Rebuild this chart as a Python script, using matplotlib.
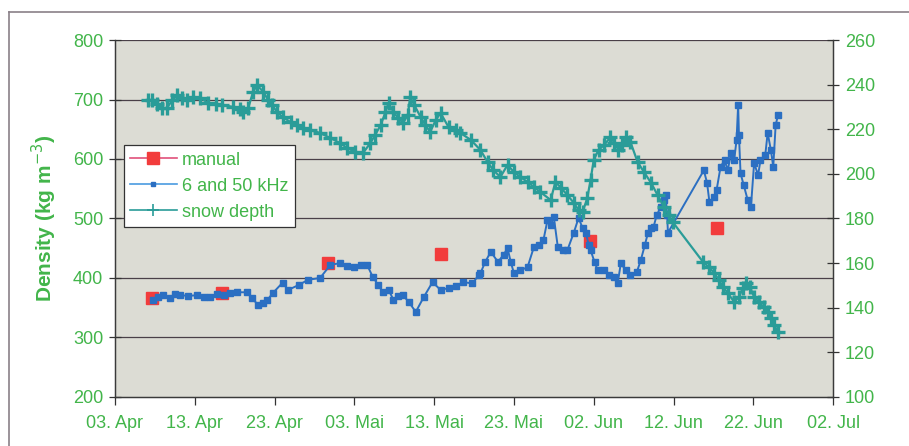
import matplotlib
matplotlib.use("Agg")
import matplotlib.pyplot as plt
from matplotlib.lines import Line2D
import numpy as np
import pandas as pd

plt.rcParams['font.family'] = ['Liberation Sans', 'DejaVu Sans']

# days after 03 Apr
start = pd.Timestamp('2003-04-03')

manual_days = [4.6, 13.4, 26.7, 40.9, 59.5, 75.4]
manual_dens = [366, 375, 425, 440, 462, 484]

# 6 and 50 kHz density (kg m-3)
khz_days = [4.8, 5.4, 6.0, 6.9, 7.5, 8.2, 9.2, 10.3, 11.2, 11.9, 12.8, 13.6, 14.4, 15.3,
            16.6, 17.2, 17.9, 18.6, 19.1, 19.8, 21.0, 21.7, 23.0, 24.2, 25.7, 27.0, 28.2,
            29.1, 29.9, 30.8, 31.6, 32.3, 33.0, 33.6, 34.3, 34.9, 35.5, 36.1, 36.8, 37.7,
            38.7, 39.8, 40.8, 41.8, 42.7, 43.6, 44.8, 45.6, 45.8, 46.4, 47.1, 48.0, 48.7,
            49.2, 49.6, 50.0, 50.8, 51.7, 52.5, 53.1, 53.7, 54.2, 54.6, 55.0, 55.5, 56.1,
            56.7, 57.5, 58.1, 58.6, 59.0, 59.4, 59.6, 60.1, 60.5, 61.3, 61.9, 62.5, 63.0,
            63.4, 64.0, 64.6, 65.4, 65.9, 66.4, 66.8, 67.2, 67.5, 67.9, 68.4, 68.8, 69.0,
            69.2, 69.3, 73.8, 74.2, 74.5, 75.1, 75.4, 75.9, 76.4, 76.8, 77.2, 77.6, 77.9,
            78.1, 78.2, 78.4, 78.8, 79.3, 79.7, 80.1, 80.6, 80.9, 81.5, 81.8, 82.2, 82.5,
            82.8, 83.1]
khz_dens = [363, 368, 371, 366, 373, 371, 370, 371, 368, 368, 373, 371, 375, 376,
            376, 366, 355, 358, 363, 375, 392, 380, 388, 397, 400, 422, 425,
            420, 418, 422, 422, 402, 388, 376, 380, 363, 370, 371, 360, 343,
            368, 393, 380, 383, 386, 393, 391, 405, 408, 427, 444, 427, 439,
            450, 427, 408, 413, 418, 452, 455, 464, 497, 489, 502, 452, 447,
            447, 476, 501, 484, 476, 455, 447, 427, 413, 413, 405, 402, 391,
            425, 413, 405, 410, 430, 455, 476, 484, 486, 506, 519, 531, 539,
            506, 476, 581, 560, 528, 536, 548, 587, 598, 581, 610, 598, 632,
            691, 640, 576, 556, 531, 519, 593, 573, 598, 607, 644, 615, 587,
            657, 674]

# snow depth (cm)
snow_days = [4.1, 4.6, 5.3, 5.9, 6.5, 7.2, 7.8, 8.4, 9.0, 9.8, 10.7, 11.7, 12.6, 13.4,
             14.8, 15.7, 16.1, 16.7, 17.3, 17.8, 18.6, 19.2, 19.7, 20.3, 21.0, 22.0, 22.8,
             23.6, 24.5, 25.7, 27.0, 28.2, 29.1, 30.1, 31.1, 32.0, 32.6, 33.3, 33.9, 34.3,
             34.9, 35.5, 36.1, 36.7, 37.0, 37.5, 38.3, 38.9, 39.5, 40.2, 40.8, 41.8, 42.7,
             43.3, 44.6, 45.8, 46.7, 47.4, 48.3, 49.2, 50.0, 50.8, 51.7, 52.5, 53.3, 54.6,
             55.2, 55.9, 56.7, 57.5, 58.1, 58.6, 59.2, 59.6, 60.0, 60.6, 61.3, 62.1, 62.6,
             63.1, 63.6, 64.1, 64.6, 65.5, 66.3, 67.2, 68.0, 68.8, 69.4, 69.9, 73.7, 74.4,
             75.1, 75.7, 76.2, 76.8, 77.6, 78.2, 78.7, 79.1, 79.6, 80.1, 80.7, 81.3, 81.8,
             82.2, 82.6, 83.1]
snow_cm = [233.1, 233.1, 231.3, 229.5, 229.5, 233.1, 235.3, 234.0, 233.1, 234.5, 234.0,
           231.8, 231.3, 230.9, 230.0, 229.1, 227.7, 229.5, 236.7, 239.8, 236.7, 233.1,
           230.9, 227.7, 225.5, 223.2, 221.9, 220.6, 219.7, 218.3, 216.1, 213.8, 211.6,
           209.8, 209.4, 213.8, 217.4, 221.9, 227.7, 231.8, 227.7, 225.0, 222.8, 226.4,
           234.5, 230.9, 225.5, 221.9, 218.8, 224.1, 227.3, 221.0, 219.7, 218.3, 215.2,
           210.7, 205.3, 201.7, 198.6, 204.0, 200.8, 198.6, 196.4, 194.1, 191.9, 188.3,
           196.4, 193.7, 190.5, 187.0, 183.8, 182.9, 189.2, 197.3, 206.2, 210.7, 212.9,
           216.5, 213.8, 210.7, 212.9, 216.5, 214.3, 205.3, 200.8, 195.9, 190.5, 185.2,
           181.6, 178.4, 160.5, 158.3, 155.6, 152.4, 149.3, 146.6, 142.6, 144.8, 148.8,
           151.1, 149.3, 144.8, 142.6, 140.3, 138.1, 135.4, 132.3, 129.1]

tick_days = [0, 10, 20, 30, 40, 50, 60, 70, 80, 90]
tick_labels = ['03. Apr', '13. Apr', '23. Apr', '03. Mai', '13. Mai', '23. Mai',
               '02. Jun', '12. Jun', '22. Jun', '02. Jul']


def to_dates(days):
    return start + pd.to_timedelta(np.array(days), unit='D')


green = '#42b54a'
blue = '#2b6fc2'
teal = '#2a9c98'
red = '#f23c3c'

fig = plt.figure(figsize=(9.09, 4.46), dpi=100)
fig.patch.set_facecolor('white')
ax = fig.add_axes([0.1265, 0.1099, 0.79, 0.8004])
ax.set_facecolor('#dcdcd4')
ax2 = ax.twinx()

for v in [300, 400, 500, 600, 700, 800]:
    ax.axhline(v, color='#4a4048', lw=0.9, zorder=0.5)

ax.plot(to_dates(manual_days), manual_dens, ls='none', marker='s', ms=9,
        color=red, zorder=2)
ax.plot(to_dates(khz_days), khz_dens, color=blue, lw=1.4, marker='s', ms=5,
        zorder=3)
ax2.plot(to_dates(snow_days), snow_cm, color=teal, lw=1.6, marker='+', ms=10,
         mew=2.4, zorder=4)

ax.set_xlim(start, start + pd.Timedelta(days=90))
ax.set_ylim(200, 800)
ax2.set_ylim(100, 260)
ax.set_yticks(range(200, 801, 100))
ax2.set_yticks(range(100, 261, 20))
ax.set_xticks(to_dates(tick_days))
ax.set_xticklabels(tick_labels)

ax.tick_params(axis='y', direction='inout', length=9, width=0.9, colors='#333333',
               labelcolor=green, labelsize=13, pad=4)
ax2.tick_params(axis='y', direction='inout', length=9, width=0.9, colors='#333333',
                labelcolor=green, labelsize=13, pad=4)
ax.tick_params(axis='x', direction='out', length=6, width=0.9, colors='#333333',
               labelcolor=green, labelsize=13, pad=7)

for a in (ax, ax2):
    a.spines['top'].set_visible(False)
    for s in ('left', 'right', 'bottom'):
        a.spines[s].set_color('#3a3a3a')
        a.spines[s].set_linewidth(0.9)
ax2.patch.set_visible(False)

ax.set_ylabel('Density (kg m$^{-3}$)', color=green, fontsize=15, fontweight='bold',
              labelpad=10)

handles = [
    Line2D([], [], color='#e0507a', lw=1.2, marker='s', ms=9, mfc=red, mec=red),
    Line2D([], [], color='#4a9be0', lw=1.2, marker='s', ms=2.5, mfc=blue, mec=blue),
    Line2D([], [], color=teal, lw=1.2, marker='+', ms=8, mew=1.2),
]
leg = ax.legend(handles, ['manual', '6 and 50 kHz', 'snow depth'], loc='upper left',
                bbox_to_anchor=(0.012, 0.705), fontsize=13, frameon=True, fancybox=False,
                handlelength=2.6, handletextpad=0.3, borderpad=0.35, labelspacing=0.5,
                borderaxespad=0, framealpha=1)
leg.get_frame().set_edgecolor('#333333')
leg.get_frame().set_linewidth(0.9)
for t in leg.get_texts():
    t.set_color(green)

# outer frame
fig.add_artist(Line2D([9 / 909, 1], [1 - 12 / 446, 1 - 12 / 446], color='#8a8088', lw=1.2))
fig.add_artist(Line2D([9 / 909, 9 / 909], [0, 1 - 12 / 446], color='#8a8088', lw=1.2))

fig.savefig('out.png', dpi=100)
